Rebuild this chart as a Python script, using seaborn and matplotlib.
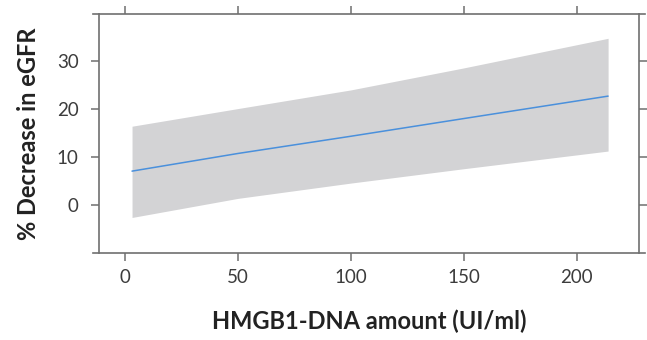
import numpy as np
import pandas as pd
import matplotlib
matplotlib.use('Agg')
import matplotlib.pyplot as plt
import seaborn as sns

# values
hmgb1 = [3, 50, 100, 150, 214]
fit = [7.0, 10.7, 14.3, 18.0, 22.7]
ci_low = [-2.7, 1.3, 4.5, 7.5, 11.2]
ci_high = [16.4, 20.1, 24.0, 28.6, 34.8]

x_ticks = [0, 50, 100, 150, 200]
y_ticks = [0, 10, 20, 30]

df = pd.DataFrame({'x': hmgb1, 'fit': fit, 'low': ci_low, 'high': ci_high})

sns.set_style("ticks")
plt.rcParams['font.family'] = ['Lato', 'DejaVu Sans']

fig = plt.figure(figsize=(6.47, 3.40), dpi=100)
ax = fig.add_axes([0.1535, 0.255, 0.8345, 0.704])

ax.fill_between(df['x'], df['low'], df['high'], color='#d3d3d5', linewidth=0, zorder=1)
sns.lineplot(data=df, x='x', y='fit', ax=ax, color='#4a90dc', linewidth=1.1, zorder=2)

ax.set_xlim(-11.5, 227.8)
ax.set_ylim(-10.2, 39.9)
ax.set_xticks(x_ticks)
ax.set_yticks(y_ticks)

spine_col = '#6f6f6f'
for s in ax.spines.values():
    s.set_visible(True)
    s.set_color(spine_col)
    s.set_linewidth(1.2)
# horizontal frame lines run a little past the corners
ax.spines['bottom'].set_bounds(-14.2, 230.5)
ax.spines['top'].set_bounds(-14.2, 230.5)

ax.tick_params(axis='both', direction='out', length=6, width=1.1, color=spine_col,
               labelcolor='#3c3c3c', labelsize=13.5)
ax.tick_params(axis='x', top=True, labeltop=False, pad=5)
ax.tick_params(axis='y', right=True, labelright=False, pad=9)

ax.set_xlabel('HMGB1-DNA amount (UI/ml)', fontsize=17, fontweight='bold', color='#222222', labelpad=17)
ax.set_ylabel('% Decrease in eGFR', fontsize=17, fontweight='bold', color='#222222', labelpad=12)

fig.savefig('out.png', dpi=100)
